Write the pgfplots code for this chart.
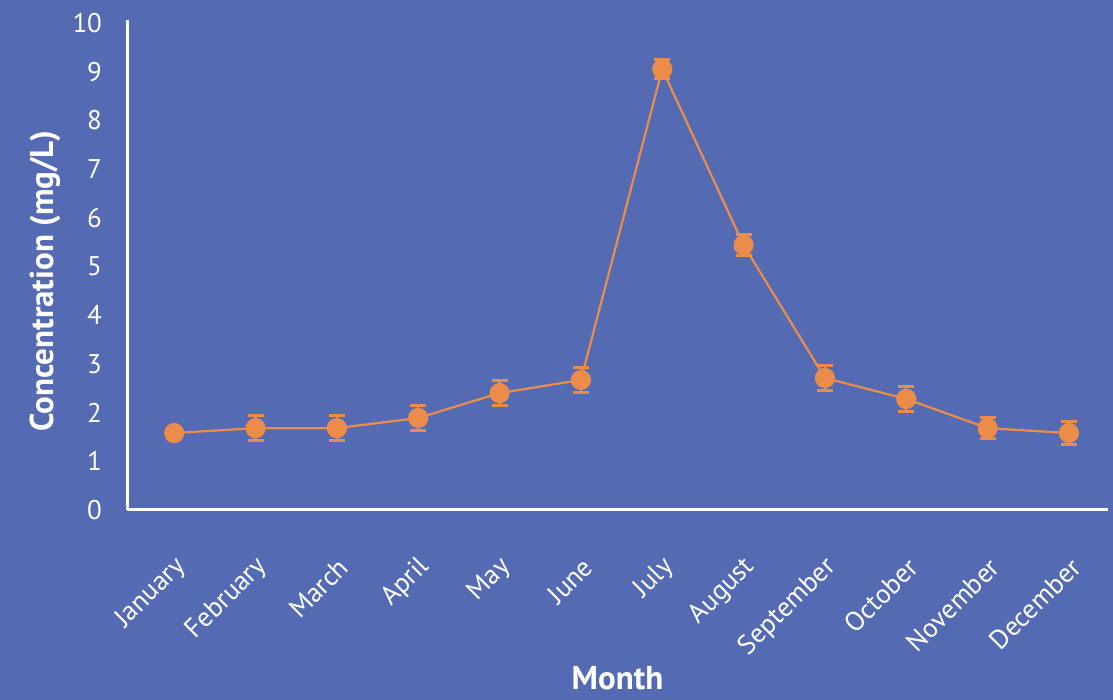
\documentclass[border=0pt]{standalone}
\usepackage{pgfplots}
\pgfplotsset{compat=1.18}
\usepackage{fontspec}
\setmainfont{PT Sans}
\definecolor{bgblue}{RGB}{84,107,180}
\definecolor{orng}{RGB}{235,140,74}
\begin{document}
\begin{tikzpicture}
\fill[bgblue] (0,0) rectangle (556.5pt,350pt);
\useasboundingbox (0,0) rectangle (556.5pt,350pt);
\begin{axis}[
  at={(63.5pt,95pt)}, anchor=south west,
  scale only axis, width=490.5pt, height=245pt,
  xmin=-0.58, xmax=11.48, ymin=0, ymax=10.06,
  axis x line=bottom, axis y line=left,
  axis line style={-, white, line width=1.5pt},
  major tick length=0pt,
  ytick={0,...,10},
  xtick={0,...,11},
  xticklabels={January,February,March,April,May,June,July,August,September,October,November,December},
  /pgf/number format/assume math mode=true,
  tick label style={white, font=\fontsize{13.5}{15}\selectfont},
  yticklabel style={anchor=east, xshift=-9pt},
  xticklabel style={yshift=-24pt, xshift=6pt, rotate=45, anchor=east},
  xlabel={Month}, ylabel={Concentration (mg/L)},
  label style={white, font=\bfseries\fontsize{16.5}{18}\selectfont},
  xlabel style={at={(axis description cs:0.5,0)}, anchor=center, yshift=-84pt},
  ylabel style={at={(axis description cs:0,0.467)}, anchor=center, yshift=41pt},
  clip=false,
]
\addplot[orng, line width=1.1pt, mark=*, mark size=4.5pt, mark options={fill=orng, draw=orng},
  error bars/.cd, y dir=both, y explicit,
  error bar style={line width=1.2pt, orng},
  error mark options={rotate=90, line width=1.5pt, mark size=4pt, orng}]
coordinates {
(0,1.58) +- (0,0)
(1,1.68) +- (0,0.25)
(2,1.68) +- (0,0.25)
(3,1.89) +- (0,0.25)
(4,2.40) +- (0,0.25)
(5,2.67) +- (0,0.25)
(6,9.05) +- (0,0.2)
(7,5.44) +- (0,0.22)
(8,2.71) +- (0,0.25)
(9,2.28) +- (0,0.25)
(10,1.68) +- (0,0.22)
(11,1.58) +- (0,0.23)
};
\end{axis}
\end{tikzpicture}
\end{document}
